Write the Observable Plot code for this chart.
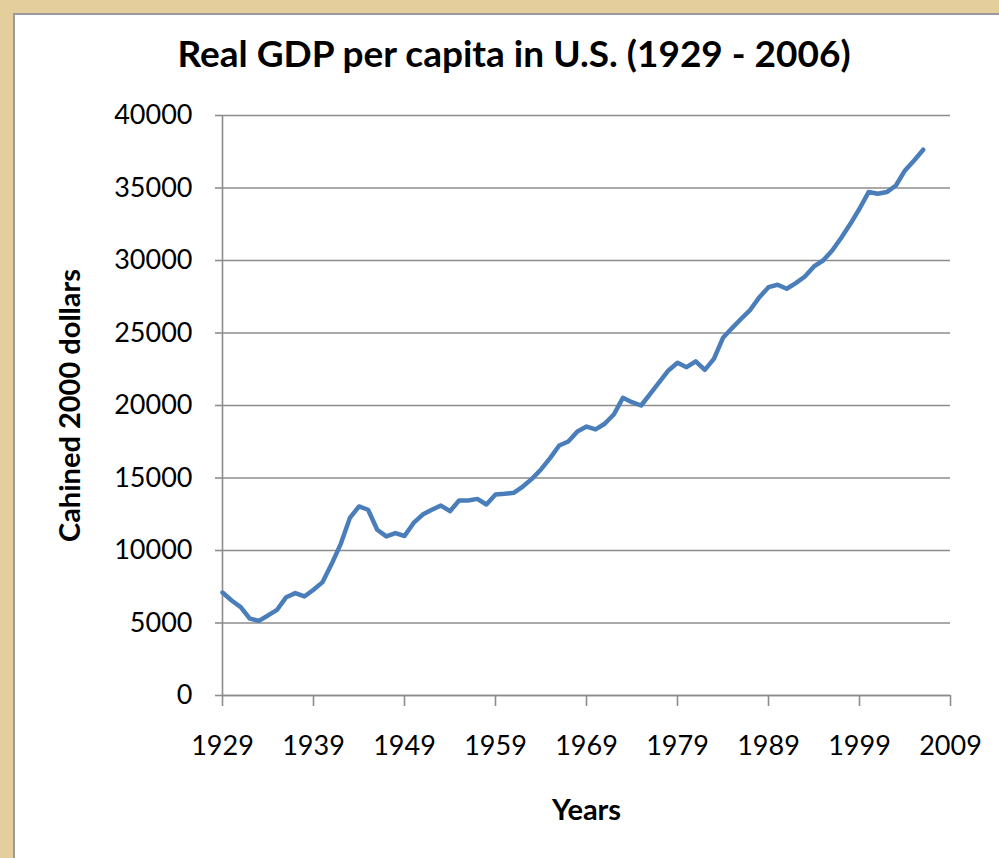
<!DOCTYPE html>
<html>
<head>
<meta charset="utf-8">
<script src="https://cdn.jsdelivr.net/npm/d3@7"></script>
<script src="https://cdn.jsdelivr.net/npm/@observablehq/plot@0.6"></script>
<style>
  html, body { margin: 0; padding: 0; }
  body { width: 999px; height: 858px; background: #e4cf9c; position: relative; overflow: hidden; font-family: Lato, "Open Sans", sans-serif; }
  #panel { position: absolute; left: 13px; top: 13px; right: 0; bottom: 0; background: #fff; border-left: 2px solid #9a9a9a; border-top: 2px solid #9a9a9a; }
  #title { position: absolute; left: 0; top: 30px; width: 1028px; text-align: center; font-size: 37px; font-weight: 700; color: #000; white-space: nowrap; }
  #chart { position: absolute; left: 0; top: 95px; }
</style>
</head>
<body>
<div id="panel"></div>
<div id="title">Real GDP per capita in U.S. (1929 - 2006)</div>
<div id="chart"></div>
<script>
const years = d3.range(1929, 2007);
const gdp = [
  7100, 6550, 6100, 5300, 5150, 5520, 5910, 6780, 7060, 6830,
  7290, 7820, 9080, 10460, 12250, 13040, 12810, 11430, 10970, 11200,
  11000, 11900, 12480, 12810, 13100, 12710, 13450, 13450, 13560, 13170,
  13860, 13910, 13980, 14410, 14940, 15590, 16370, 17240, 17520, 18210,
  18550, 18350, 18740, 19380, 20530, 20230, 20000, 20810, 21610, 22420,
  22950, 22640, 23040, 22460, 23220, 24670, 25340, 25980, 26600, 27470,
  28160, 28330, 28050, 28440, 28900, 29590, 30000, 30690, 31570, 32530,
  33570, 34720, 34600, 34720, 35170, 36210, 36900, 37640
];
const xTicks = [1929, 1939, 1949, 1959, 1969, 1979, 1989, 1999, 2009];
const yTicks = [0, 5000, 10000, 15000, 20000, 25000, 30000, 35000, 40000];
const xLabel = "Years";
const yLabel = "Cahined 2000 dollars";

const data = years.map((year, i) => ({year, value: gdp[i]}));
const gridColor = "#8c8c8c";

const chart = Plot.plot({
  width: 999,
  height: 740,
  marginLeft: 222,
  marginRight: 49,
  marginTop: 20,
  marginBottom: 140,
  style: {fontFamily: "Lato, 'Open Sans', sans-serif", fontSize: "27px", color: "#000", background: "transparent", overflow: "visible"},
  x: {domain: [1929, 2009], label: null},
  y: {domain: [0, 40000], label: null},
  marks: [
    Plot.gridY(yTicks, {stroke: gridColor, strokeOpacity: 1, strokeWidth: 1.6}),
    Plot.axisY(yTicks, {tickSize: 7, tickPadding: 23, stroke: gridColor, strokeWidth: 1.6, fill: "#000", tickFormat: d => String(d), label: null}),
    Plot.axisX(xTicks, {tickSize: 11, tickPadding: 29, stroke: gridColor, strokeWidth: 1.6, fill: "#000", tickFormat: d => String(d), label: null}),
    Plot.ruleX([1929], {y1: 0, y2: 40000, stroke: gridColor, strokeWidth: 1.6}),
    Plot.ruleY([0], {stroke: gridColor, strokeWidth: 1.6}),
    Plot.line(data, {x: "year", y: "value", stroke: "#4a7ebb", strokeWidth: 4.5, strokeLinejoin: "round", strokeLinecap: "round"}),
    Plot.text([yLabel], {frameAnchor: "left", textAnchor: "middle", dx: -152, rotate: -90, fontWeight: "bold", fontSize: 29, fill: "#000"}),
    Plot.text([xLabel], {frameAnchor: "bottom", dy: 124, fontWeight: "bold", fontSize: 29, fill: "#000"})
  ]
});
document.getElementById("chart").appendChild(chart);
</script>
</body>
</html>
